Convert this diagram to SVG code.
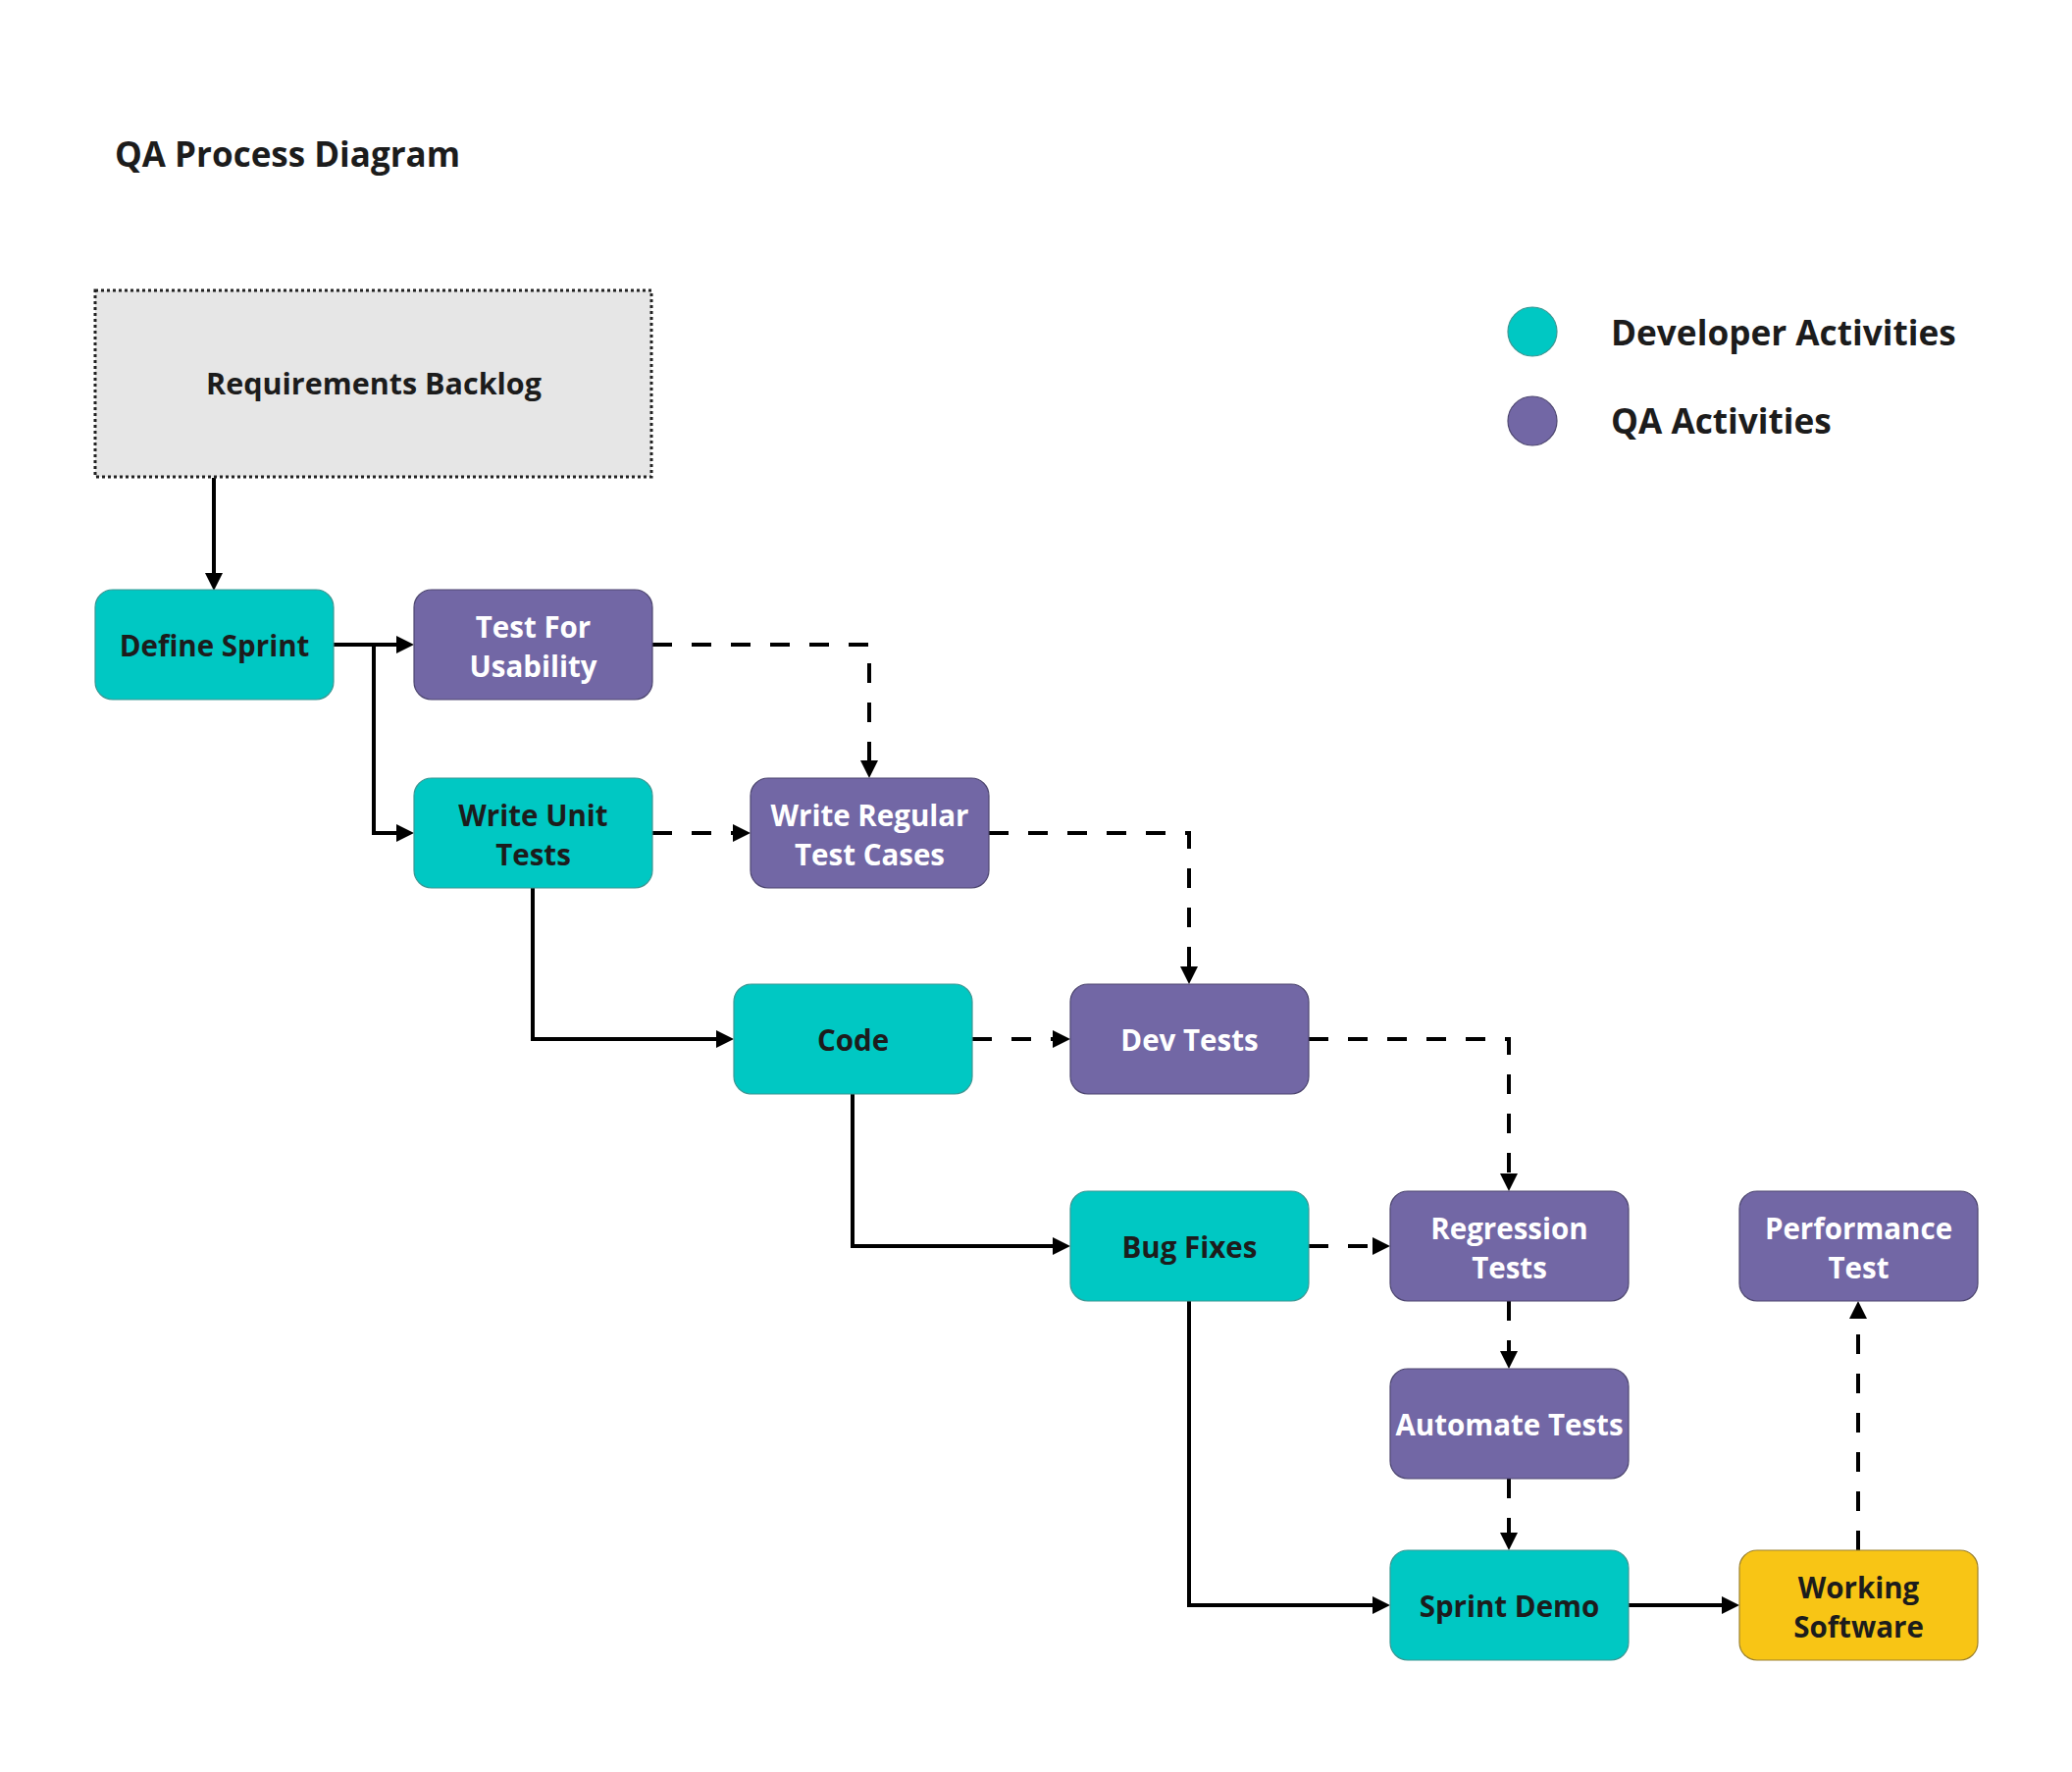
<svg xmlns="http://www.w3.org/2000/svg" width="2112" height="1806" viewBox="0 0 2112 1806">
<style>
text{font-family:"Open Sans","Noto Sans","Liberation Sans",sans-serif;font-weight:700;text-anchor:middle}
.dev{fill:#00c8c3;stroke:#3b9894;stroke-width:1.2}
.qa{fill:#7267a5;stroke:#4e4770;stroke-width:1.2}
.ws{fill:#f8c515;stroke:#9c8230;stroke-width:1.2}
.dk{fill:#1c1c1c;font-size:29.5px}
.wt{fill:#ffffff;font-size:29.5px}
.e{fill:none;stroke:#000;stroke-width:4;marker-end:url(#ah)}
.d{stroke-dasharray:20 20}
</style>
<defs>
<marker id="ah" markerUnits="userSpaceOnUse" markerWidth="18" markerHeight="18" refX="8" refY="9" orient="auto">
<path d="M0,0 L18,9 L0,18 Z" fill="#000"/>
</marker>
</defs>
<rect width="2112" height="1806" fill="#fff"/>
<text x="117" y="170" style="text-anchor:start;font-size:35px;fill:#1c1c1c">QA Process Diagram</text>
<g id="legend">
<circle cx="1562" cy="338" r="25" class="dev"/>
<text x="1642" y="352" style="text-anchor:start;font-size:35.2px;fill:#1c1c1c">Developer Activities</text>
<circle cx="1562" cy="429" r="25" class="qa"/>
<text x="1642" y="442" style="text-anchor:start;font-size:35.2px;fill:#1c1c1c">QA Activities</text>
</g>
<g id="connectors">
<path class="e" d="M218,487 V592"/>
<path class="e" d="M340,657 H412"/>
<path class="e" d="M381,657 V849 H412"/>
<path class="e d" d="M665,657 H886 V783"/>
<path class="e d" d="M665,849 H755"/>
<path class="e d" d="M1008,849 H1212 V993"/>
<path class="e" d="M543,905 V1059 H738"/>
<path class="e d" d="M991,1059 H1081"/>
<path class="e d" d="M1334,1059 H1538 V1204"/>
<path class="e" d="M869,1115 V1270 H1081"/>
<path class="e d" d="M1334,1270 H1407"/>
<path class="e d" d="M1538,1326 V1385"/>
<path class="e d" d="M1538,1507 V1570"/>
<path class="e" d="M1212,1326 V1636 H1407"/>
<path class="e" d="M1660,1636 H1763"/>
<path class="e d" d="M1894,1580 V1336"/>
</g>
<g id="requirements-backlog">
<rect x="97" y="296" width="567" height="190" fill="#e6e6e6" stroke="#222" stroke-width="3" stroke-dasharray="3 3"/>
<text x="381" y="402" class="dk" style="font-size:30.5px">Requirements Backlog</text>
</g>
<g id="define-sprint">
<rect x="97" y="601" width="243" height="112" rx="18" class="dev"/>
<text x="218.5" y="669" class="dk">Define Sprint</text>
</g>
<g id="test-for-usability">
<rect x="422" y="601" width="243" height="112" rx="18" class="qa"/>
<text x="543.5" y="650" class="wt">Test For</text>
<text x="543.5" y="690" class="wt">Usability</text>
</g>
<g id="write-unit-tests">
<rect x="422" y="793" width="243" height="112" rx="18" class="dev"/>
<text x="543.5" y="842" class="dk">Write Unit</text>
<text x="543.5" y="882" class="dk">Tests</text>
</g>
<g id="write-regular-test-cases">
<rect x="765" y="793" width="243" height="112" rx="18" class="qa"/>
<text x="886.5" y="842" class="wt">Write Regular</text>
<text x="886.5" y="882" class="wt">Test Cases</text>
</g>
<g id="code">
<rect x="748" y="1003" width="243" height="112" rx="18" class="dev"/>
<text x="869.5" y="1071" class="dk">Code</text>
</g>
<g id="dev-tests">
<rect x="1091" y="1003" width="243" height="112" rx="18" class="qa"/>
<text x="1212.5" y="1071" class="wt">Dev Tests</text>
</g>
<g id="bug-fixes">
<rect x="1091" y="1214" width="243" height="112" rx="18" class="dev"/>
<text x="1212.5" y="1282" class="dk">Bug Fixes</text>
</g>
<g id="regression-tests">
<rect x="1417" y="1214" width="243" height="112" rx="18" class="qa"/>
<text x="1538.5" y="1263" class="wt">Regression</text>
<text x="1538.5" y="1303" class="wt">Tests</text>
</g>
<g id="performance-test">
<rect x="1773" y="1214" width="243" height="112" rx="18" class="qa"/>
<text x="1894.5" y="1263" class="wt">Performance</text>
<text x="1894.5" y="1303" class="wt">Test</text>
</g>
<g id="automate-tests">
<rect x="1417" y="1395" width="243" height="112" rx="18" class="qa"/>
<text x="1538.5" y="1463" class="wt">Automate Tests</text>
</g>
<g id="sprint-demo">
<rect x="1417" y="1580" width="243" height="112" rx="18" class="dev"/>
<text x="1538.5" y="1648" class="dk">Sprint Demo</text>
</g>
<g id="working-software">
<rect x="1773" y="1580" width="243" height="112" rx="18" class="ws"/>
<text x="1894.5" y="1629" class="dk">Working</text>
<text x="1894.5" y="1669" class="dk">Software</text>
</g>
</svg>
